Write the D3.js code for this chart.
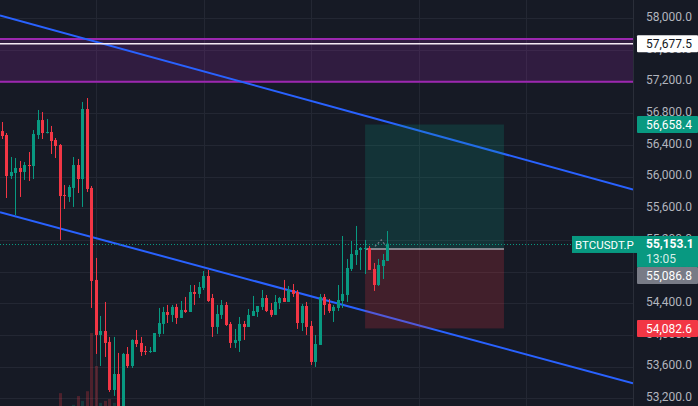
<!DOCTYPE html>
<html><head><meta charset="utf-8">
<script src="https://cdn.jsdelivr.net/npm/d3@7"></script>
<style>html,body{margin:0;padding:0;background:#161a25;overflow:hidden}text{font-family:Roboto,"Liberation Sans",sans-serif}</style>
</head><body><svg id="c" width="698" height="406"></svg>
<script>
// ---- data ----
const open  = [56576,56526,56008,56046,56109,56059,56147,56134,56526,56715,56551,56564,56463,56400,55768,55743,55857,56147,55970,56854,55857,54695,54000,54050,53912,53305,53507,52990,53760,53608,53937,53899,53798,53785,53785,54013,54139,54290,54253,54354,54215,54316,54290,54543,54518,54594,54745,54467,54101,54253,54379,54139,53899,53924,54139,54101,54240,54290,54354,54467,54316,54253,54404,54467,54417,54568,54543,54151,54366,54114,53659,53874,54480,54392,54303,54341,54429,54505,54834,55010,55073,55086,55099,54834,54631,54871,54935];
const high  = [56690,56551,56248,56235,56198,56185,56311,56589,56842,56816,56728,56640,56488,56412,55894,55894,56248,56223,56943,56993,55882,54973,54240,54417,53975,53975,53773,53773,53848,53945,54063,53975,53861,53848,54025,54341,54354,54379,54379,54392,54429,54480,54631,54631,54669,54808,54821,54518,54379,54442,54417,54164,54076,54227,54177,54328,54493,54366,54568,54505,54404,54505,54480,54695,54619,54644,54568,54392,54417,54177,54000,54518,54518,54455,54379,54631,55250,54960,55187,55377,55111,55200,55124,54909,54960,55023,55313];
const low   = [56475,55730,55970,55515,55743,55958,55945,55970,56475,56475,56545,56286,56235,55200,55591,55680,55617,55793,55617,55806,54341,53760,53608,53722,53280,53230,52863,52926,53583,53583,53848,53735,53747,53773,53785,53975,54013,54151,54164,54139,54215,54278,54290,54379,54467,54568,54417,53975,54013,54202,54114,53836,53836,53785,53937,54101,54240,54227,54316,54290,54227,54253,54328,54417,54417,54480,54076,54050,54000,53621,53596,53874,54253,54278,54164,54303,54341,54417,54808,54884,54821,54770,54821,54556,54619,54707,54935];
const close = [56513,56008,56059,56109,56059,56147,56134,56539,56715,56551,56564,56450,56387,55755,55755,55869,56147,55970,56854,55844,54682,54000,54050,53899,53305,53507,52990,53760,53608,53937,53886,53785,53785,53798,54025,54151,54290,54253,54354,54215,54316,54290,54543,54518,54606,54745,54429,54101,54265,54379,54126,53899,53937,54139,54101,54253,54303,54366,54467,54303,54253,54417,54467,54417,54568,54518,54151,54366,54101,53659,53886,54480,54379,54303,54354,54442,54518,54846,55023,55073,55099,55099,54821,54631,54884,54947,55153.1];
const volume = [12,14,10,13,9,8,10,15,14,12,8,10,9,38,14,12,26,35,30,40,100,66,28,30,32,28,33,30,14,12,9,10,8,7,11,12,13,9,8,10,9,7,12,8,9,11,12,14,10,9,10,12,9,11,8,9,10,7,9,8,8,9,7,8,7,8,12,13,11,16,15,18,10,9,8,11,20,15,13,14,8,9,10,11,9,8,9];
const priceTicks = [53200,53600,54000,54400,54800,55200,55600,56000,56400,56800,57200,57600,58000];
const timeGridIdx = [21,45,69,93,117];
const upperTrend = [[-0.5,58037],[140.8,55838]];
const lowerTrend = [[-0.5,55550],[140.8,53390]];
const zoneTop = 57740, zoneBottom = 57200;
const hLinePrice = 57677.5;
const posStart = 81, posEnd = 112;
const targetPrice = 56658.4, entryPrice = 55086.8, stopPrice = 54082.6;
const lastPrice = 55153.1, symbol = "BTCUSDT.P", countdown = "13:05";
const squiggle = [[83.2,55118],[84.6,55200],[85.7,55124]];

// ---- setup ----
const W = 698, H = 406, plotW = 633;
const UP = "#089981", DOWN = "#f23645";
const svg = d3.select("#c");
const x = d3.scaleLinear().domain([-0.5,140.8]).range([0,plotW]);
const y = d3.scaleLinear().domain([53200,58000]).range([398.3,18.3]);
const vy = d3.scaleLinear().domain([0,100]).range([430,333]);
const fmt = d3.format(",.1f");

svg.append("rect").attr("width",W).attr("height",H).attr("fill","#161a25");
svg.append("defs").append("clipPath").attr("id","plot").append("rect").attr("width",plotW).attr("height",H);
const g = svg.append("g").attr("clip-path","url(#plot)");

// grid
g.selectAll(".hg").data(priceTicks).join("line")
  .attr("x1",0).attr("x2",plotW).attr("y1",d=>Math.round(y(d))+0.5).attr("y2",d=>Math.round(y(d))+0.5)
  .attr("stroke","#232733").attr("stroke-width",1);
g.selectAll(".vg").data(timeGridIdx).join("line")
  .attr("x1",d=>Math.round(x(d))+0.5).attr("x2",d=>Math.round(x(d))+0.5).attr("y1",0).attr("y2",H)
  .attr("stroke","#232733").attr("stroke-width",1);
svg.append("line").attr("x1",plotW+0.5).attr("x2",plotW+0.5).attr("y1",0).attr("y2",H).attr("stroke","#2a2e39");

// purple zone
g.append("rect").attr("x",0).attr("width",plotW).attr("y",y(zoneTop)).attr("height",y(zoneBottom)-y(zoneTop))
  .attr("fill","rgba(156,39,176,0.2)");
g.selectAll(".zl").data([zoneTop,zoneBottom]).join("line")
  .attr("x1",0).attr("x2",plotW).attr("y1",d=>y(d)).attr("y2",d=>y(d))
  .attr("stroke","#9c27b0").attr("stroke-width",2);

// volume
const idx = d3.range(open.length);
g.selectAll(".vol").data(idx).join("rect")
  .attr("x",i=>Math.round(x(i)-1.5)).attr("width",3)
  .attr("y",i=>vy(volume[i])).attr("height",i=>vy(0)-vy(volume[i]))
  .attr("fill",i=>close[i]>=open[i]?"rgba(8,153,129,0.25)":"rgba(242,54,69,0.25)");

// trend lines
const line = d3.line().x(d=>x(d[0])).y(d=>y(d[1]));
g.selectAll(".tl").data([upperTrend,lowerTrend]).join("path")
  .attr("d",line).attr("fill","none").attr("stroke","#2962ff").attr("stroke-width",2);

// position tool
g.append("rect").attr("x",x(posStart)).attr("width",x(posEnd)-x(posStart))
  .attr("y",y(targetPrice)).attr("height",y(entryPrice)-y(targetPrice)).attr("fill","rgba(8,153,129,0.2)");
g.append("rect").attr("x",x(posStart)).attr("width",x(posEnd)-x(posStart))
  .attr("y",y(entryPrice)).attr("height",y(stopPrice)-y(entryPrice)).attr("fill","rgba(242,54,69,0.2)");
g.append("line").attr("x1",x(posStart)).attr("x2",x(posEnd)).attr("y1",y(entryPrice)).attr("y2",y(entryPrice))
  .attr("stroke","#a8a4ad").attr("stroke-width",1.5);

// horizontal line
g.append("line").attr("x1",0).attr("x2",plotW).attr("y1",y(hLinePrice)).attr("y2",y(hLinePrice))
  .attr("stroke","#f3e9f3").attr("stroke-width",1.5);

// last price dotted line
g.append("line").attr("x1",0).attr("x2",plotW).attr("y1",Math.round(y(lastPrice))+0.5).attr("y2",Math.round(y(lastPrice))+0.5)
  .attr("stroke",UP).attr("stroke-width",1).attr("stroke-dasharray","1,2");

// candles
const cg = g.append("g");
cg.selectAll(".wick").data(idx).join("line")
  .attr("x1",i=>Math.round(x(i)-1.5)+1.5).attr("x2",i=>Math.round(x(i)-1.5)+1.5)
  .attr("y1",i=>y(high[i])).attr("y2",i=>y(low[i]))
  .attr("stroke",i=>close[i]>=open[i]?UP:DOWN).attr("stroke-width",1);
cg.selectAll(".body").data(idx).join("rect")
  .attr("x",i=>Math.round(x(i)-1.5)).attr("width",3)
  .attr("y",i=>y(Math.max(open[i],close[i])))
  .attr("height",i=>Math.max(1,Math.abs(y(open[i])-y(close[i]))))
  .attr("fill",i=>close[i]>=open[i]?UP:DOWN);

// squiggle
g.append("path").attr("d",line(squiggle)).attr("fill","none").attr("stroke","#787b86")
  .attr("stroke-width",1.2).attr("stroke-dasharray","2,2");

// price axis
const axis = d3.axisRight(y).tickValues(priceTicks).tickFormat(fmt).tickSize(0).tickPadding(0);
const ag = svg.append("g").attr("transform",`translate(646,-1.5)`).call(axis);
ag.select(".domain").remove();
ag.selectAll("text").attr("fill","#b2b5be").attr("font-size",12).style("font-family","Roboto, sans-serif");

// labels
const LX = 637, LW = W-LX, LH = 17;
function priceLabel(top, bg, fg, txt, bold){
  svg.append("rect").attr("x",LX).attr("y",top).attr("width",LW).attr("height",LH).attr("fill",bg).attr("rx",1);
  svg.append("text").attr("x",646).attr("y",top+LH/2).attr("dy","0.35em").attr("fill",fg)
    .attr("font-size",12).attr("font-weight",bold?"bold":"normal").text(txt);
}
priceLabel(y(hLinePrice)-LH/2, "#ffffff", "#131722", fmt(hLinePrice));
priceLabel(y(targetPrice)-LH/2, UP, "#ffffff", fmt(targetPrice));
priceLabel(y(stopPrice)-LH/2, DOWN, "#ffffff", fmt(stopPrice));

// last price label (two lines)
const lpTop = y(lastPrice)-7.7, lpH = 31;
svg.append("rect").attr("x",LX).attr("y",lpTop).attr("width",LW).attr("height",lpH).attr("fill",UP);
svg.append("text").attr("x",646).attr("y",y(lastPrice)).attr("dy","0.35em").attr("fill","#fff")
  .attr("font-size",12).attr("font-weight","bold").text(fmt(lastPrice));
svg.append("text").attr("x",646).attr("y",y(lastPrice)+15).attr("dy","0.35em").attr("fill","#d6efe9")
  .attr("font-size",12).text(countdown);
// symbol label
svg.append("rect").attr("x",572).attr("y",lpTop).attr("width",LX-572).attr("height",LH).attr("fill",UP);
svg.append("text").attr("x",575).attr("y",lpTop+LH/2).attr("dy","0.35em").attr("fill","#fff")
  .attr("font-size",11.5).text(symbol);

// entry label, pushed below the last-price label if overlapping
const entryTop = Math.max(y(entryPrice)-LH/2, lpTop+lpH);
priceLabel(entryTop, "#787b86", "#ffffff", fmt(entryPrice));
</script></body></html>
